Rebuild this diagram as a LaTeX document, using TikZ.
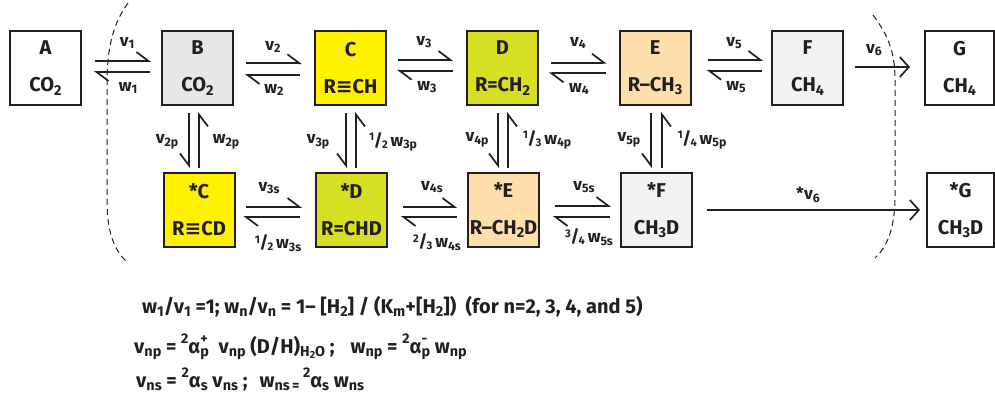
\documentclass[tikz,border=0pt]{standalone}
\usepackage{graphicx}
\usepackage{fontspec}
\setmainfont{Fira Sans}
\newfontfamily\symf{DejaVu Sans}
\usetikzlibrary{arrows.meta}

\definecolor{ink}{HTML}{231F20}
\definecolor{fillB}{HTML}{E6E7E8}
\definecolor{fillC}{HTML}{FFF100}
\definecolor{fillD}{HTML}{D7DF23}
\definecolor{fillE}{HTML}{FEDFAC}
\definecolor{fillF}{HTML}{F1F2F2}

\newcommand\bxf{\fontsize{20}{37}\selectfont\bfseries}
\newcommand\lbf{\fontsize{17}{19}\selectfont\bfseries}
\newcommand\eqf{\fontsize{20}{22}\selectfont\bfseries}
\newcommand\sub[1]{\raisebox{-.3ex}{\scalebox{.72}{#1}}}
\newcommand\sups[1]{\raisebox{.85ex}{\scalebox{.7}{#1}}}
\newcommand\alp{α}
\newcommand\supsub[2]{\makebox[0pt][l]{\sups{#2}}\sub{#1}}
\newcommand\trip{{\symf ≡}}
\newcommand\fr[2]{\raisebox{.6ex}{\scalebox{.65}{#1}}\kern-.02em/\kern-.04em\raisebox{-.2ex}{\scalebox{.65}{#2}}}

\begin{document}
\begin{tikzpicture}[x=1pt,y=-1pt,
  box/.style={draw=ink,line width=2pt,minimum width=71pt,minimum height=74pt,
              inner sep=0pt,outer sep=0pt,align=center,font=\bxf,text=ink},
  lbl/.style={font=\lbf,text=ink,inner sep=0pt},
  eqn/.style={font=\eqf,text=ink,inner sep=0pt,anchor=base west},
  rx/.style={draw=ink,line width=1.7pt},
  hl/.style={rx,-{Straight Barb[left,length=12pt,width=18pt]}},
  hr/.style={rx,-{Straight Barb[right,length=12pt,width=18pt]}},
  fwd/.style={rx,-{Straight Barb[length=9pt,width=20pt]}},
  sep/.style={draw=ink,line width=1pt,dash pattern=on 6pt off 4pt}]

\useasboundingbox (0,0) rectangle (995,400);

% boundary of the compartment
\draw[sep] (128,3) .. controls (112,25) and (107,50) .. (107,85) -- (107,200)
           .. controls (107,232) and (114,250) .. (127,262);
\draw[sep] (873,15) .. controls (888,35) and (895,52) .. (895,80) -- (895,195)
           .. controls (895,225) and (889,245) .. (875,258);

% unlabelled pathway
\node[box]            (A) at (45.5,68)  {A\\CO\sub{2}};
\node[box,fill=fillB] (B) at (197.5,68) {B\\CO\sub{2}};
\node[box,fill=fillC] (C) at (350.5,68) {C\\R\trip CH};
\node[box,fill=fillD] (D) at (502.5,68) {D\\R=CH\sub{2}};
\node[box,fill=fillE] (E) at (655,68)   {E\\R–CH\sub{3}};
\node[box,fill=fillF] (F) at (807.5,68) {F\\CH\sub{4}};
\node[box,minimum width=69pt] (G) at (959.5,68) {G\\CH\sub{4}};

% deuterated pathway
\node[box,fill=fillC] (Cs) at (199,210)   {*C\\R\trip CD};
\node[box,fill=fillD] (Ds) at (351.5,210) {*D\\R=CHD};
\node[box,fill=fillE] (Es) at (503.5,210) {*E\\R–CH\sub{2}D};
\node[box,fill=fillF] (Fs) at (656.5,210) {*F\\CH\sub{3}D};
\node[box,minimum width=67pt] (Gs) at (960.5,210) {*G\\CH\sub{3}D};

% top row fluxes
\draw[hl] ([xshift=14pt,yshift=7pt]A.east)    -- ([xshift=-11pt,yshift=7pt]B.west);
\draw[hl] ([xshift=-12pt,yshift=-4pt]B.west)  -- ([xshift=13pt,yshift=-4pt]A.east);
\draw[hl] ([xshift=13pt,yshift=4.7pt]B.east)  -- ([xshift=-13pt,yshift=4.7pt]C.west);
\draw[hl] ([xshift=-15pt,yshift=-7pt]C.west)  -- ([xshift=12pt,yshift=-7pt]B.east);
\draw[hl] ([xshift=12pt,yshift=8pt]C.east)    -- ([xshift=-14pt,yshift=8pt]D.west);
\draw[hl] ([xshift=-14pt,yshift=-2.7pt]D.west)-- ([xshift=11pt,yshift=-2.7pt]C.east);
\draw[hl] ([xshift=13pt,yshift=5.3pt]D.east)  -- ([xshift=-13pt,yshift=5.3pt]E.west);
\draw[hl] ([xshift=-14pt,yshift=-5.3pt]E.west)-- ([xshift=11pt,yshift=-5.3pt]D.east);
\draw[hl] ([xshift=17pt,yshift=8pt]E.east)    -- ([xshift=-9pt,yshift=8pt]F.west);
\draw[hl] ([xshift=-10pt,yshift=-2.7pt]F.west)-- ([xshift=16pt,yshift=-2.7pt]E.east);
\draw[fwd] ([xshift=12pt,yshift=1pt]F.east)   -- ([xshift=-15pt,yshift=1pt]G.west);

% exchange with water
\draw[hr] ([xshift=-8.5pt,yshift=-8pt]B.south) -- ([xshift=-10pt,yshift=5pt]Cs.north);
\draw[hr] ([xshift=0pt,yshift=5pt]Cs.north)    -- ([xshift=1.5pt,yshift=-7pt]B.south);
\draw[hr] ([xshift=-4.5pt,yshift=-8pt]C.south) -- ([xshift=-5.5pt,yshift=5pt]Ds.north);
\draw[hr] ([xshift=4.5pt,yshift=5pt]Ds.north)  -- ([xshift=5.5pt,yshift=-7pt]C.south);
\draw[hr] ([xshift=-4.5pt,yshift=-8pt]D.south) -- ([xshift=-5.5pt,yshift=5pt]Es.north);
\draw[hr] ([xshift=4.5pt,yshift=5pt]Es.north)  -- ([xshift=5.5pt,yshift=-7pt]D.south);
\draw[hr] ([xshift=-4pt,yshift=-8pt]E.south)   -- ([xshift=-5.5pt,yshift=5pt]Fs.north);
\draw[hr] ([xshift=5.5pt,yshift=5pt]Fs.north)  -- ([xshift=7pt,yshift=-7pt]E.south);

% bottom row fluxes
\draw[hl] ([xshift=11pt,yshift=3pt]Cs.east)   -- ([xshift=-14pt,yshift=3pt]Ds.west);
\draw[hl] ([xshift=-16pt,yshift=-7pt]Ds.west) -- ([xshift=9pt,yshift=-7pt]Cs.east);
\draw[hl] ([xshift=16pt,yshift=3pt]Ds.east)   -- ([xshift=-11pt,yshift=3pt]Es.west);
\draw[hl] ([xshift=-11pt,yshift=-7pt]Es.west) -- ([xshift=14pt,yshift=-7pt]Ds.east);
\draw[hl] ([xshift=16pt,yshift=4pt]Es.east)   -- ([xshift=-10pt,yshift=4pt]Fs.west);
\draw[hl] ([xshift=-11pt,yshift=-7pt]Fs.west) -- ([xshift=14pt,yshift=-7pt]Es.east);
\draw[fwd] ([xshift=15pt]Fs.east) -- ([xshift=-7pt]Gs.west);

% rate labels, top row
\node[lbl] (v1) at (127,43) {v\sub{1}};
\node[lbl] (w1) at (128,88) {w\sub{1}};
\node[lbl] (v2) at (273,47) {v\sub{2}};
\node[lbl] (w2) at (274,90) {w\sub{2}};
\node[lbl] (v3) at (424,42) {v\sub{3}};
\node[lbl] (w3) at (427,87) {w\sub{3}};
\node[lbl] (v4) at (578,43) {v\sub{4}};
\node[lbl] (w4) at (579,89) {w\sub{4}};
\node[lbl] (v5) at (734,43) {v\sub{5}};
\node[lbl] (w5) at (736,87) {w\sub{5}};
\node[lbl] (v6) at (874,50) {v\sub{6}};

% rate labels, vertical
\node[lbl] (v2p) at (167,142) {v\sub{2p}};
\node[lbl] (w2p) at (226,142) {w\sub{2p}};
\node[lbl] (v3p) at (318,142) {v\sub{3p}};
\node[lbl] (w3p) at (393,142) {\fr{1}{2}\,w\sub{3p}};
\node[lbl] (v4p) at (477,140) {v\sub{4p}};
\node[lbl] (w4p) at (547,140) {\fr{1}{3}\,w\sub{4p}};
\node[lbl] (v5p) at (629,140) {v\sub{5p}};
\node[lbl] (w5p) at (702,140) {\fr{1}{4}\,w\sub{5p}};

% rate labels, bottom row
\node[lbl] (v3s) at (269,188) {v\sub{3s}};
\node[lbl] (w3s) at (278,243) {\fr{1}{2}\,w\sub{3s}};
\node[lbl] (v4s) at (432,187) {v\sub{4s}};
\node[lbl] (w4s) at (437,242) {\fr{2}{3}\,w\sub{4s}};
\node[lbl] (v5s) at (584,187) {v\sub{5s}};
\node[lbl] (w5s) at (589,237) {\fr{3}{4}\,w\sub{5s}};
\node[lbl] (v6s) at (808,195) {*v\sub{6}};

% rate relations
\node[eqn] (eq1) at (142,313) {w\sub{1}/v\sub{1} =1; w\sub{n}/v\sub{n} = 1– [H\sub{2}] / (K\sub{m}+[H\sub{2}])\ \ (for n=2, 3, 4, and 5)};
\node[eqn] (eq2) at (134,353) {v\sub{np} = \sups{2}\alp\supsub{p}{+}\ \ v\sub{np} (D/H)\sub{H\sub{2}O}\ ;\hspace{.8em}w\sub{np} = \sups{2}\alp\supsub{p}{-}\ w\sub{np}};
\node[eqn] (eq3) at (136,387) {v\sub{ns} = \sups{2}\alp\sub{s} v\sub{ns} ;\hspace{.6em}w\sub{ns\,=}\,\sups{2}\alp\sub{s} w\sub{ns}};
\end{tikzpicture}
\end{document}
